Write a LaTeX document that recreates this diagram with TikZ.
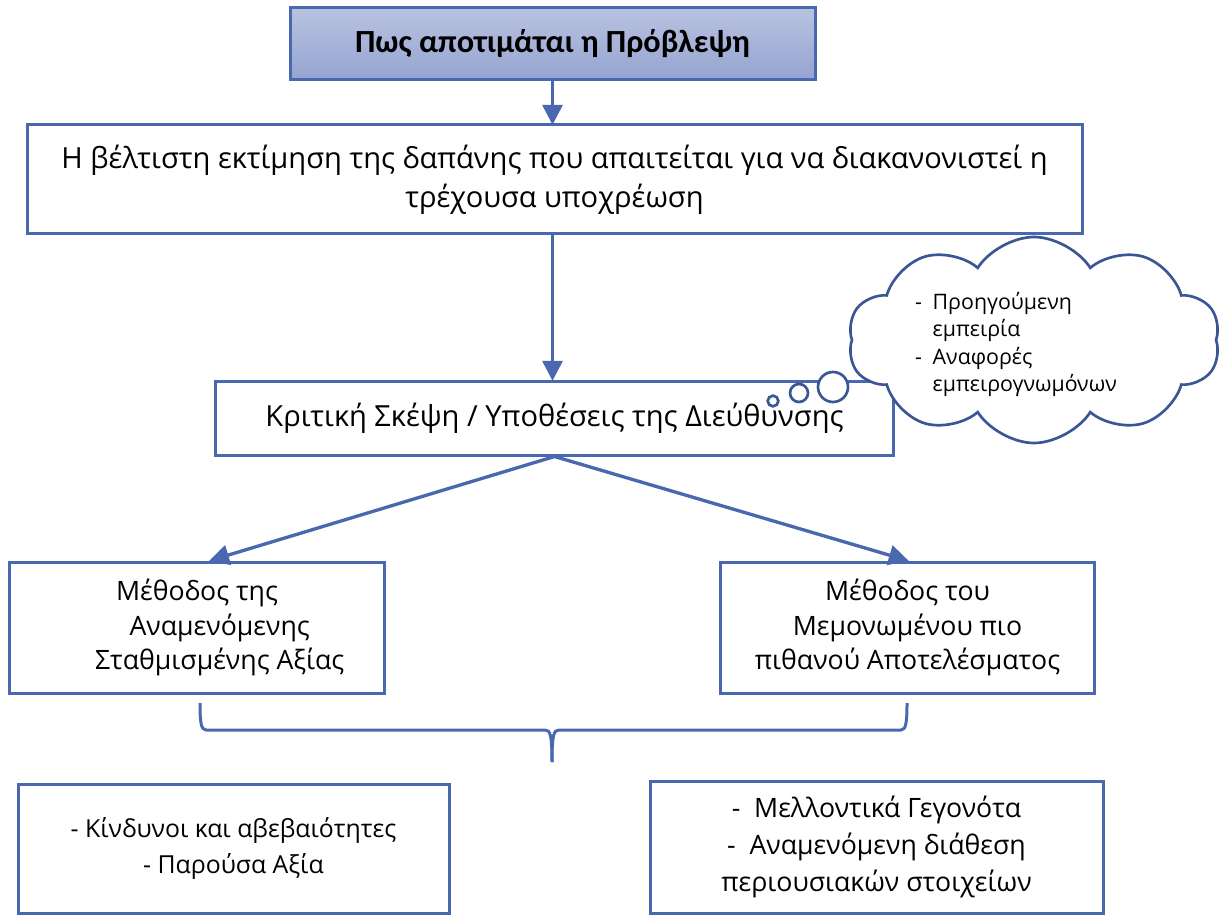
\documentclass[tikz,border=0pt]{standalone}
\usepackage{fontspec}
\setmainfont{Open Sans}
\newfontfamily\titlefont{Carlito}
\usepackage{tikz}
\usetikzlibrary{positioning,calc,arrows.meta,shapes.symbols}
\definecolor{boxblue}{HTML}{4A68B0}
\definecolor{cloudblue}{HTML}{3A5694}
\definecolor{topfill}{HTML}{B9C2E0}
\definecolor{botfill}{HTML}{95A4D0}
\tikzset{block/.style={draw=boxblue,line width=2.25pt,align=center,inner sep=0pt,font=\fontsize{21.8}{29}\selectfont},
         titleblock/.style={block,top color=topfill,bottom color=botfill,font=\titlefont\bfseries\fontsize{24.2}{28}\selectfont},
         methodblock/.style={block,minimum width=281pt,minimum height=98.25pt,font=\fontsize{20}{26}\selectfont},
         listblock/.style={block,font=\fontsize{19}{27}\selectfont},
         bubble/.style={circle,draw=cloudblue,fill=white,line width=2pt,inner sep=0pt},
         bracket/.style={draw=boxblue,line width=2.25pt}
}
\tikzstyle{arrow} = [line width=2.5pt,draw=boxblue,-{Triangle[width=15pt,length=15pt]},shorten >=-1pt]

\begin{document}
\begin{tikzpicture}[x=0.75pt,y=-0.75pt]
\useasboundingbox (0,0) rectangle (1223,916);

\node[titleblock,minimum width=393.75pt,minimum height=54pt] (prov) at (552.5,44) {Πως αποτιμάται η Πρόβλεψη};
\node[block,minimum width=791.25pt,minimum height=81.75pt,below=31.5pt of prov.south,anchor=north,xshift=1.5pt] (best) {Η βέλτιστη εκτίμηση της δαπάνης που απαιτείται για να διακανονιστεί η\\τρέχουσα υποχρέωση};
\node[block,minimum width=508.5pt,minimum height=55.5pt,below=108pt of best.south,anchor=north] (crit) {Κριτική Σκέψη / Υποθέσεις της Διεύθυνσης};
\node[methodblock] (ewv) at (197,627.5) {Μέθοδος της\\\hspace*{1.7em}Αναμενόμενης\\\hspace*{1.7em}Σταθμισμένης Αξίας};
\node[methodblock] (mlo) at (907.5,627.5) {Μέθοδος του\\Μεμονωμένου πιο\\πιθανού Αποτελέσματος};
\node[listblock,minimum width=323.25pt,minimum height=96.75pt,font=\fontsize{18.6}{27}\selectfont] (risk) at (233.5,848.5) {- Κίνδυνοι και αβεβαιότητες\\- Παρούσα Αξία};
\node[listblock,minimum width=339.75pt,minimum height=99pt,font=\fontsize{20}{28}\selectfont] (future) at (876.5,847) {-\ \ Μελλοντικά Γεγονότα\\-\ \ Αναμενόμενη διάθεση\\ περιουσιακών στοιχείων};

\node[bubble,minimum size=8pt] (bub3) at (773,401) {};
\node[bubble,minimum size=13.5pt] (bub2) at (799,393) {};
\node[bubble,minimum size=22.5pt] (bub1) at (833,387) {};
\node[cloud,cloud puffs=10,cloud puff arc=115,draw=cloudblue,fill=white,line width=2pt,minimum width=279pt,minimum height=154.5pt,inner sep=0pt] (cloud) at (1034,340) {};
\node[font=\fontsize{16}{20.5}\selectfont,inner sep=0pt] (exp) at (1016,345) {\begin{tabular}{@{}l@{\hspace{8pt}}l@{}}-&Προηγούμενη\\&εμπειρία\\-&Αναφορές\\&εμπειρογνωμόνων\end{tabular}};

\draw[arrow] (prov.south)--(prov.south |- best.north);
\draw[arrow] (prov.south |- best.south)--(prov.south |- crit.north);
\draw[arrow] (crit.south)--([xshift=10pt]ewv.north);
\draw[arrow] (crit.south)--(mlo.north);

\coordinate (braceL) at (200,703);
\coordinate (braceR) at (907,703);
\coordinate (braceM) at (552,762);
\draw[bracket] (braceL) .. controls (200,722) and (201,730) .. (206,730) -- (545,730) .. controls (550,730) and (552,734) .. (braceM);
\draw[bracket] (braceR) .. controls (907,722) and (906,730) .. (901,730) -- (559,730) .. controls (554,730) and (552,734) .. (braceM);

\end{tikzpicture}
\end{document}
